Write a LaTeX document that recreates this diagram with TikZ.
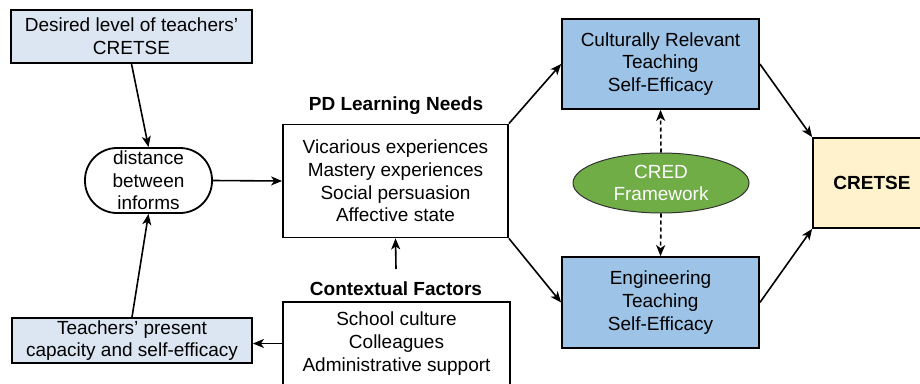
\documentclass[tikz,border=0pt]{standalone}
\usepackage{fontspec}
\setmainfont{Liberation Sans}
\usetikzlibrary{arrows.meta,shapes.geometric}
\definecolor{paleblue}{HTML}{DCE6F2}
\definecolor{midblue}{HTML}{9DC3E6}
\definecolor{leafgreen}{HTML}{70AD47}
\definecolor{cream}{HTML}{FFF2CC}
\begin{document}
\begin{tikzpicture}[x=1pt,y=-1pt,
  font=\fontsize{19}{22.6}\selectfont,
  box/.style={draw, line width=1.8pt, align=center, inner sep=0pt},
  arr/.style={-{Stealth[length=11pt,width=9pt,inset=3pt]}, line width=1.6pt},
  darr/.style={arr, dashed, dash pattern=on 4pt off 3pt},
  heading/.style={font=\fontsize{19}{22.6}\selectfont\bfseries}]
\clip (0,0) rectangle (920,383);
\fill[white] (0,0) rectangle (920,383);

% left column
\node[box, fill=paleblue, minimum width=241pt, minimum height=53pt] (des) at (131.5,36.5)
  {Desired level of teachers’\\CRETSE};
\node[box, fill=white, rounded corners=32pt, minimum width=127pt, minimum height=65pt] (dist) at (148.5,180.5)
  {distance\\between\\informs};
\node[box, fill=paleblue, minimum width=240pt, minimum height=45pt] (tp) at (132,340.5)
  {Teachers’ present\\capacity and self-efficacy};

% middle column
\node[heading] (pdlab) at (396,106) {PD Learning Needs};
\node[box, fill=white, minimum width=225pt, minimum height=113pt] (pd) at (395.5,181)
  {Vicarious experiences\\Mastery experiences\\Social persuasion\\Affective state};
\node[heading] (ctxlab) at (396,289) {Contextual Factors};
\node[box, fill=white, minimum width=227pt, minimum height=83pt] (ctx) at (396.5,343.5)
  {School culture\\Colleagues\\Administrative support};
\coordinate (ctxup) at (396,269);

% right part
\node[box, fill=midblue, minimum width=197pt, minimum height=90pt] (crt) at (660.5,64)
  {Culturally Relevant\\Teaching\\Self-Efficacy};
\node[box, fill=midblue, minimum width=197pt, minimum height=91pt] (eng) at (660.5,302.5)
  {Engineering\\Teaching\\Self-Efficacy};
\node[ellipse, draw=black!80, line width=1pt, fill=leafgreen, text=white, align=center,
  inner sep=0pt, minimum width=176pt, minimum height=60pt] (cred) at (661,183)
  {CRED\\Framework};
\node[box, fill=cream, minimum width=118pt, minimum height=90pt, font=\fontsize{19}{22.6}\selectfont\bfseries] (cretse) at (872,183)
  {CRETSE};

% connectors
\draw[arr] (des.south) -- (dist.north);
\draw[arr] (tp.north) -- (dist.south);
\draw[arr] (dist.east) -- (pd.west);
\draw[arr] (ctx.west) -- (ctx.west -| tp.east);
\draw[arr] (ctxup) -- (pd.south);
\draw[arr] (pd.north east) -- (crt.west);
\draw[arr] (pd.south east) -- (eng.west);
\draw[arr] (crt.east) -- (cretse.north west);
\draw[arr] (eng.east) -- (cretse.south west);
\draw[darr] (cred.north) -- (crt.south);
\draw[darr] (cred.south) -- (eng.north);
\end{tikzpicture}
\end{document}
